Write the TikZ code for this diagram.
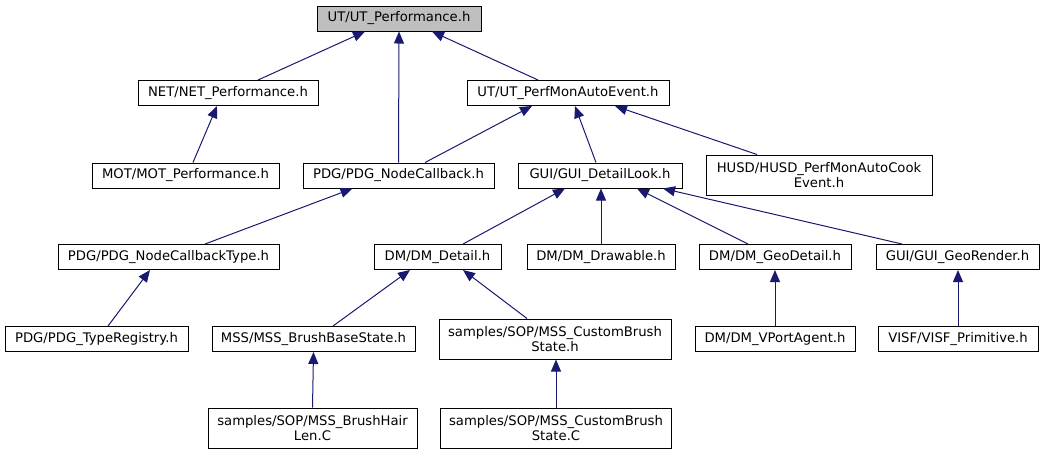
\documentclass[tikz,border=0pt]{standalone}
\usepackage{fontspec}
\setmainfont{DejaVu Sans}
\usetikzlibrary{arrows.meta,calc}
\definecolor{edgeblue}{HTML}{191970}

\begin{document}
\begin{tikzpicture}[x=0.75pt,y=-0.75pt,font=\fontsize{9.9}{11.25}\selectfont,
  box/.style={draw=black,line width=0.75pt,fill=white,inner sep=0pt,minimum height=25*0.75pt,align=center},
  wd/.style={minimum width=#1*0.75pt},
  tall/.style={minimum height=40*0.75pt},
  dep/.style={draw=edgeblue,line width=0.75pt,-{Triangle[length=9pt,width=7.5pt]}}]
  \useasboundingbox (0,0) rectangle (1045,455);
  % rank 0 and 1
  \node[box,fill=black!25,wd=164] (ut) at (399,18.5) {UT/UT\_Performance.h};
  \node[box,wd=180] (net) at (228,93) {NET/NET\_Performance.h};
  \node[box,wd=202] (mon) at (568,93) {UT/UT\_PerfMonAutoEvent.h};
  % rank 2
  \node[box,wd=187] (mot) at (185.5,175.5) {MOT/MOT\_Performance.h};
  \node[box,wd=191] (cb) at (398.5,175.5) {PDG/PDG\_NodeCallback.h};
  \node[box,wd=164] (look) at (600,175.5) {GUI/GUI\_DetailLook.h};
  \node[box,wd=226,tall] (husd) at (819,175) {HUSD/HUSD\_PerfMonAutoCook\\Event.h};
  % rank 3
  \node[box,wd=221] (cbt) at (168.5,257) {PDG/PDG\_NodeCallbackType.h};
  \node[box,wd=127] (dmd) at (437.5,257) {DM/DM\_Detail.h};
  \node[box,wd=148] (drw) at (601,257) {DM/DM\_Drawable.h};
  \node[box,wd=152] (geo) at (775,257) {DM/DM\_GeoDetail.h};
  \node[box,wd=163] (rend) at (957.5,257) {GUI/GUI\_GeoRender.h};
  % rank 4
  \node[box,wd=183] (reg) at (96.5,339) {PDG/PDG\_TypeRegistry.h};
  \node[box,wd=203] (bbs) at (313.5,339) {MSS/MSS\_BrushBaseState.h};
  \node[box,wd=232,tall] (cbsh) at (555,339) {samples/SOP/MSS\_CustomBrush\\State.h};
  \node[box,wd=160] (vport) at (775,339) {DM/DM\_VPortAgent.h};
  \node[box,wd=160] (visf) at (958,339) {VISF/VISF\_Primitive.h};
  % rank 5
  \node[box,wd=209,tall] (hair) at (312.5,428) {samples/SOP/MSS\_BrushHair\\Len.C};
  \node[box,wd=231,tall] (cbsc) at (556,428) {samples/SOP/MSS\_CustomBrush\\State.C};

  % edges, arrow on the included file
  \draw[dep] ($(net.north)+(30,0)$) -- ($(ut.south)+(-34,0)$);
  \draw[dep] (cb.north) -- (ut.south);
  \draw[dep] ($(mon.north)+(-30,0)$) -- ($(ut.south)+(33,0)$);
  \draw[dep] ($(mot.north)+(7.5,0)$) -- ($(net.south)+(-11,0)$);
  \draw[dep] ($(cb.north)+(26.5,0)$) -- ($(mon.south)+(-36,0)$);
  \draw[dep] ($(look.north)+(-4,0)$) -- ($(mon.south)+(7,0)$);
  \draw[dep] ($(husd.north)+(-62,0)$) -- ($(mon.south)+(47,0)$);
  \draw[dep] ($(cbt.north)+(36.5,0)$) -- ($(cb.south)+(-46,0)$);
  \draw[dep] ($(reg.north)+(11.5,0)$) -- ($(cbt.south)+(-18.5,0)$);
  \draw[dep] ($(dmd.north)+(25.5,0)$) -- ($(look.south)+(-35,0)$);
  \draw[dep] (drw.north) -- (look.south -| drw.north);
  \draw[dep] ($(geo.north)+(-27,0)$) -- ($(look.south)+(37,0)$);
  \draw[dep] ($(rend.north)+(-55.5,0)$) -- ($(look.south)+(63,0)$);
  \draw[dep] ($(bbs.north)+(19.5,0)$) -- ($(dmd.south)+(-27.5,0)$);
  \draw[dep] ($(cbsh.north)+(-28,0)$) -- ($(dmd.south)+(25.5,0)$);
  \draw[dep] (hair.north) -- (bbs.south);
  \draw[dep] (cbsc.north) -- (cbsh.south -| cbsc.north);
  \draw[dep] (vport.north) -- (geo.south);
  \draw[dep] (visf.north) -- (rend.south -| visf.north);
\end{tikzpicture}
\end{document}
